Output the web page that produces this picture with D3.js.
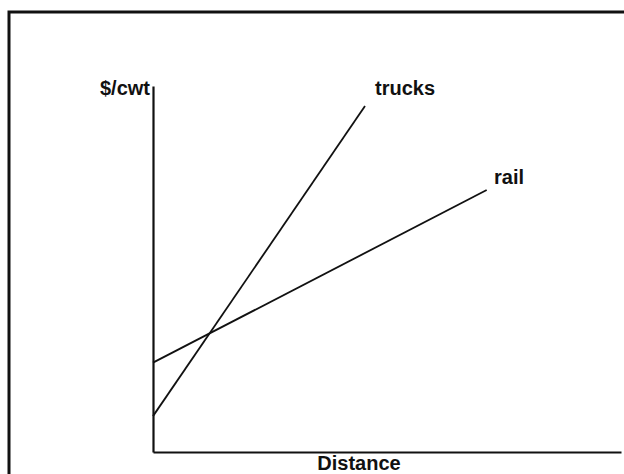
<!DOCTYPE html>
<html>
<head>
<meta charset="utf-8">
<script src="https://cdn.jsdelivr.net/npm/d3@7.9.0/dist/d3.min.js"></script>
<style>
  body { margin: 0; background: #fff; }
  text { font-family: "Liberation Sans", Arial, sans-serif; font-weight: bold; fill: #111; }
</style>
</head>
<body>
<div id="chart"></div>
<script>
// ===============================
// DATA (distance units 0-100, cost units 0-10)
// ===============================
const seriesNames = ["trucks", "rail"];
const trucksPts = [{ x: 0, y: 1.0 }, { x: 45.3, y: 9.64 }];
const railPts = [{ x: 0, y: 2.49 }, { x: 71.3, y: 7.3 }];
const xLabel = "Distance";
const yLabel = "$/cwt";

// ===============================
// SETUP
// ===============================
const width = 624, height = 474;
const margin = { top: 86, right: 3, bottom: 22, left: 153 };

const svg = d3.select("#chart").append("svg")
  .attr("width", width)
  .attr("height", height);

// scanned frame: left and top edges only
svg.append("path")
  .attr("d", `M9,${height} V12 H${width}`)
  .attr("fill", "none")
  .attr("stroke", "#111")
  .attr("stroke-width", 3);

const xScale = d3.scaleLinear()
  .domain([0, 100])
  .range([margin.left, width - margin.right]);

const yScale = d3.scaleLinear()
  .domain([0, 10.2])
  .range([height - margin.bottom, margin.top]);

// axes without ticks
svg.append("g")
  .attr("transform", `translate(0,${yScale(0)})`)
  .call(d3.axisBottom(xScale).ticks(0).tickSizeOuter(0))
  .call(g => g.select(".domain").attr("stroke", "#111").attr("stroke-width", 2.2));

svg.append("g")
  .attr("transform", `translate(${xScale(0)},0)`)
  .call(d3.axisLeft(yScale).ticks(0).tickSizeOuter(0))
  .call(g => g.select(".domain").attr("stroke", "#111").attr("stroke-width", 2.2));

// lines
const line = d3.line().x(d => xScale(d.x)).y(d => yScale(d.y));
[trucksPts, railPts].forEach(pts => {
  svg.append("path")
    .datum(pts)
    .attr("d", line)
    .attr("fill", "none")
    .attr("stroke", "#111")
    .attr("stroke-width", 1.8);
});

// labels
svg.append("text")
  .attr("x", xScale(0) - 3)
  .attr("y", 95)
  .attr("text-anchor", "end")
  .style("font-size", "20px")
  .text(yLabel);

svg.append("text")
  .attr("x", 375)
  .attr("y", 95)
  .style("font-size", "20px")
  .text(seriesNames[0]);

svg.append("text")
  .attr("x", 494)
  .attr("y", 184)
  .style("font-size", "20px")
  .text(seriesNames[1]);

svg.append("text")
  .attr("x", 359)
  .attr("y", 470)
  .attr("text-anchor", "middle")
  .style("font-size", "20px")
  .text(xLabel);
</script>
</body>
</html>
